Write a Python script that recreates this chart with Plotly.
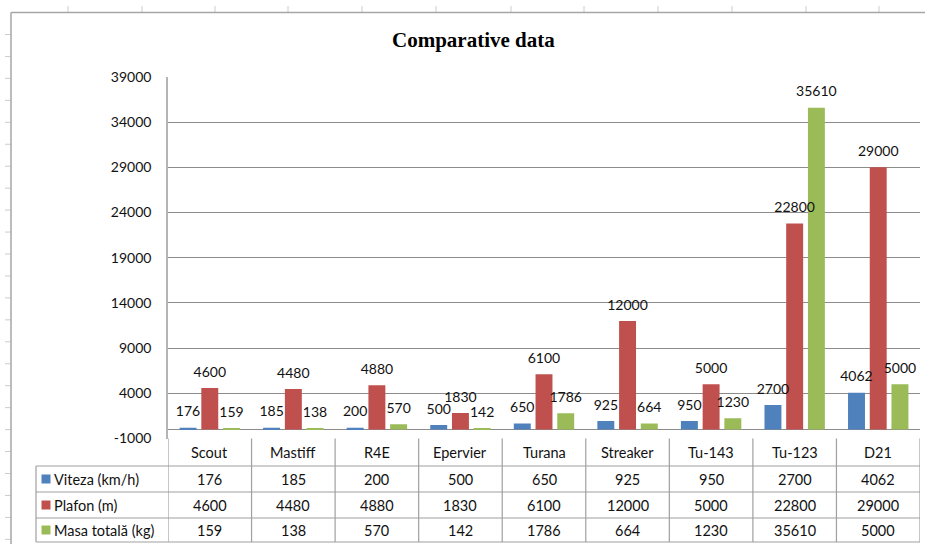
import plotly.graph_objects as go

# ---------------- data ----------------
categories = ["Scout", "Mastiff", "R4E", "Epervier", "Turana", "Streaker", "Tu-143", "Tu-123", "D21"]
viteza = [176, 185, 200, 500, 650, 925, 950, 2700, 4062]
plafon = [4600, 4480, 4880, 1830, 6100, 12000, 5000, 22800, 29000]
masa = [159, 138, 570, 142, 1786, 664, 1230, 35610, 5000]
series_names = ["Viteza (km/h)", "Plafon (m)", "Masa totală (kg)"]
title_text = "Comparative data"
y_ticks = [-1000, 4000, 9000, 14000, 19000, 24000, 29000, 34000, 39000]

# ---------------- styling ----------------
W, H = 925, 544
colors = ["#4F81BD", "#C0504D", "#9BBB59"]
GRID = "#8C8C8C"
TBL = "#A0A0A0"
FONT = "Lato"
TXT = "#111111"


def px(x):
    return x / W


def py(y):
    return 1 - y / H


series = [viteza, plafon, masa]
xs = list(range(len(categories)))

fig = go.Figure()
for k, (name, vals, col) in enumerate(zip(series_names, series, colors)):
    fig.add_trace(go.Bar(
        x=xs, y=vals, name=name, marker=dict(color=col, line=dict(width=0)),
        offsetgroup=str(k), showlegend=False, hoverinfo="skip",
    ))
# data labels drawn on top of all bars (invisible markers give the label gap)
for k, (name, vals) in enumerate(zip(series_names, series)):
    fig.add_trace(go.Scatter(
        x=xs, y=vals, mode="markers+text", text=[str(v) for v in vals], textposition="top center",
        marker=dict(size=11, opacity=0), textfont=dict(family=FONT, size=14, color=TXT),
        offsetgroup=str(k), cliponaxis=False, showlegend=False, hoverinfo="skip",
    ))

plot_left, plot_right = 168, 920
plot_top, plot_bottom = 77, 438.5

fig.update_layout(
    width=W, height=H,
    margin=dict(l=0, r=0, t=0, b=0, autoexpand=False),
    paper_bgcolor="white", plot_bgcolor="white",
    barmode="group", bargap=0.22, bargroupgap=0.22,
    scattermode="group", scattergap=0.22,
    font=dict(family=FONT, size=14, color=TXT),
    xaxis=dict(domain=[px(plot_left), px(plot_right)], range=[-0.5, len(categories) - 0.5],
               showticklabels=False, showgrid=False, zeroline=False, showline=False,
               fixedrange=True, automargin=False),
    yaxis=dict(domain=[py(plot_bottom), py(plot_top)], range=[-1000, 39000],
               tickmode="array", tickvals=y_ticks, ticktext=[str(t) for t in y_ticks],
               showgrid=True, gridcolor=GRID, gridwidth=1,
               zeroline=True, zerolinecolor=GRID, zerolinewidth=1,
               showline=True, linecolor="#B4B4B4", linewidth=1.5,
               ticks="", ticklabelstandoff=12, automargin=False,
               tickfont=dict(family=FONT, size=14, color=TXT), fixedrange=True),
)

shapes = []
annotations = []

# spreadsheet background ticks
for xt in [68, 142, 215, 288, 362, 436, 511, 584, 658, 732, 806, 879]:
    shapes.append(dict(type="line", xref="paper", yref="paper", x0=px(xt), x1=px(xt),
                       y0=py(6), y1=py(12), line=dict(color="#C8CCD4", width=1)))
yt = 34.5
while yt < H:
    shapes.append(dict(type="line", xref="paper", yref="paper", x0=px(5), x1=px(11),
                       y0=py(yt), y1=py(yt), line=dict(color="#C8CCD4", width=1)))
    yt += 21.95

# chart area border (top & left)
shapes.append(dict(type="line", xref="paper", yref="paper", x0=px(11), x1=1,
                   y0=py(12.5), y1=py(12.5), line=dict(color="#A6A6A6", width=1.5)))
shapes.append(dict(type="line", xref="paper", yref="paper", x0=px(11), x1=px(11),
                   y0=py(12.5), y1=0, line=dict(color="#A6A6A6", width=1.5)))

# ---------------- data table ----------------
row_lines = [466, 492, 518, 542]
header_center = 452
row_centers = [479, 505, 530]
tbl_left = 36

for ry in row_lines:
    shapes.append(dict(type="line", xref="paper", yref="paper", x0=px(tbl_left), x1=px(plot_right),
                       y0=py(ry), y1=py(ry), line=dict(color=TBL, width=1.2)))
shapes.append(dict(type="line", xref="paper", yref="paper", x0=px(tbl_left), x1=px(tbl_left),
                   y0=py(466), y1=py(542), line=dict(color=TBL, width=1.2)))
for k in range(len(categories) + 1):
    shapes.append(dict(type="line", xref="x", yref="paper", x0=k - 0.5, x1=k - 0.5,
                       y0=py(plot_bottom), y1=py(542), line=dict(color=TBL, width=1.2)))

cell_font = dict(family=FONT, size=14.5, color=TXT)
for i, c in enumerate(categories):
    annotations.append(dict(x=i, xref="x", y=py(header_center), yref="paper", text=c,
                            xanchor="center", yanchor="middle",
                            showarrow=False, font=cell_font))

for r, (name, vals, col) in enumerate(zip(series_names, series, colors)):
    cy = row_centers[r]
    shapes.append(dict(type="rect", xref="paper", yref="paper", x0=px(41.5), x1=px(50.5),
                       y0=py(cy - 4.5), y1=py(cy + 4.5), fillcolor=col, line=dict(width=0)))
    annotations.append(dict(x=px(52), xref="paper", y=py(cy), yref="paper", text=name,
                            xanchor="left", yanchor="middle", showarrow=False,
                            font=cell_font))
    for i, v in enumerate(vals):
        annotations.append(dict(x=i, xref="x", y=py(cy), yref="paper", text=str(v),
                                xanchor="center", yanchor="middle",
                                showarrow=False, font=cell_font))

annotations.append(dict(x=px(473), xref="paper", y=py(40), yref="paper", text="<b>" + title_text + "</b>",
                        showarrow=False, xanchor="center", yanchor="middle",
                        font=dict(family="Liberation Serif", size=21, color="#000000")))

fig.update_layout(shapes=shapes, annotations=annotations)
fig.write_html("out.html", config={"displayModeBar": False},
               post_script="document.body.style.margin='0';document.body.style.overflow='hidden';")
